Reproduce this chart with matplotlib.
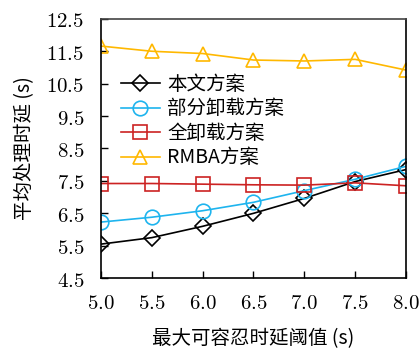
import numpy as np
import matplotlib.pyplot as plt

plt.rcParams['font.family'] = ['Noto Sans CJK SC', 'DejaVu Sans']
plt.rcParams['mathtext.fontset'] = 'cm'

# data
x = [5.0, 5.5, 6.0, 6.5, 7.0, 7.5, 8.0]
ours = [5.55, 5.75, 6.1, 6.5, 6.96, 7.48, 7.85]
partial = [6.23, 6.38, 6.58, 6.84, 7.2, 7.55, 7.95]
full = [7.42, 7.42, 7.4, 7.38, 7.37, 7.44, 7.35]
rmba = [11.66, 11.5, 11.43, 11.23, 11.2, 11.25, 10.92]
xticks = [5.0, 5.5, 6.0, 6.5, 7.0, 7.5, 8.0]
yticks = [4.5, 5.5, 6.5, 7.5, 8.5, 9.5, 10.5, 11.5, 12.5]

fig = plt.figure(figsize=(4.19, 3.49), dpi=100)
ax = fig.add_axes([0.241, 0.203, 0.728, 0.743])

ax.plot(x, ours, color='black', marker='D', ms=8, mfc='none', mew=1.2, lw=1.2, label='本文方案')
ax.plot(x, partial, color='#1EB4EE', marker='o', ms=10.5, mfc='none', mew=1.2, lw=1.2, label='部分卸载方案')
ax.plot(x, full, color='#CC2222', marker='s', ms=9.5, mfc='none', mew=1.2, lw=1.2, label='全卸载方案')
ax.plot(x, rmba, color='#FFB800', marker='^', ms=10.5, mfc='none', mew=1.2, lw=1.2, label='RMBA方案')

ax.set_xlim(5.0, 8.0)
ax.set_ylim(4.5, 12.5)
ax.set_xticks(xticks)
ax.set_xticklabels(['$%.1f$' % v for v in xticks], fontsize=15)
ax.set_yticks(yticks)
ax.set_yticklabels(['$%.1f$' % v for v in yticks], fontsize=15)
ax.tick_params(direction='in', length=5, width=1)
ax.tick_params(axis='y', pad=12)
ax.tick_params(axis='x', pad=10)
ax.spines['top'].set_color('#444444')
for s in ax.spines.values():
    s.set_linewidth(1.2)

ax.set_xlabel('最大可容忍时延阈值 (s)', fontsize=14, labelpad=10)
ax.set_ylabel('平均处理时延 (s)', fontsize=14, labelpad=8)

ax.legend(loc='upper left', bbox_to_anchor=(0.02, 0.84), frameon=False, fontsize=14,
          handlelength=2.0, handletextpad=0.4, labelspacing=0.18, borderaxespad=0.3)

fig.savefig('out.png', dpi=100)
